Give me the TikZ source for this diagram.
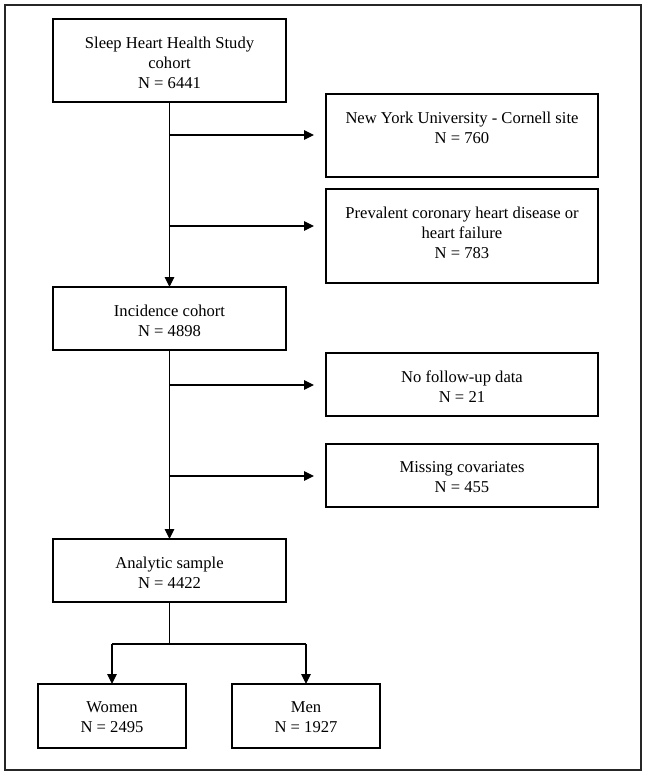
\documentclass[tikz,border=0pt]{standalone}
\usepackage{fontspec}
\setmainfont{Liberation Serif}
\usetikzlibrary{arrows.meta,calc}
\begin{document}
\begin{tikzpicture}[x=1pt,y=-1pt,
  box/.style={draw=black,line width=1.2pt,rectangle,inner sep=0pt,outer sep=0pt},
  txt/.style={align=center,inner sep=0pt,outer sep=0pt,anchor=north,font=\fontsize{16.6}{20}\selectfont},
  arr/.style={line width=1.2pt,-{Triangle[length=10pt,width=9.5pt]}},
  ln/.style={line width=1.2pt}]
\useasboundingbox (0,0) rectangle (647,777);
\draw[line width=1.3pt,draw=black!85] (5,5) rectangle (641,770);
% boxes
\node[box,minimum width=233pt,minimum height=83pt] (b1) at (169.5,60.5) {};
\node[box,minimum width=272pt,minimum height=83pt] (b2) at (462,135.5) {};
\node[box,minimum width=272pt,minimum height=94pt] (b3) at (462,236) {};
\node[box,minimum width=233pt,minimum height=63pt] (b4) at (169.5,318.5) {};
\node[box,minimum width=272pt,minimum height=63pt] (b5) at (462,384.5) {};
\node[box,minimum width=272pt,minimum height=63pt] (b6) at (462,475.5) {};
\node[box,minimum width=233pt,minimum height=63pt] (b7) at (169.5,570.5) {};
\node[box,minimum width=148pt,minimum height=64pt] (b8) at (112,716) {};
\node[box,minimum width=148pt,minimum height=64pt] (b9) at (306,716) {};
% texts
\node[txt] (t1) at ($(b1.north)+(0,17.6)$) {Sleep Heart Health Study\\cohort\\N = 6441};
\node[txt] (t2) at ($(b2.north)+(0,17.6)$) {New York University - Cornell site\\N = 760};
\node[txt] (t3) at ($(b3.north)+(0,17.6)$) {Prevalent coronary heart disease or\\heart failure\\N = 783};
\node[txt] (t4) at ($(b4.north)+(0,17.6)$) {Incidence cohort\\N = 4898};
\node[txt] (t5) at ($(b5.north)+(0,17.6)$) {No follow-up data\\N = 21};
\node[txt] (t6) at ($(b6.north)+(0,17.6)$) {Missing covariates\\N = 455};
\node[txt] (t7) at ($(b7.north)+(0,17.6)$) {Analytic sample\\N = 4422};
\node[txt] (t8) at ($(b8.north)+(0,17.6)$) {Women\\N = 2495};
\node[txt] (t9) at ($(b9.north)+(0,17.6)$) {Men\\N = 1927};
% junctions
\coordinate (j1) at (b1.south |- 0,135);
\coordinate (j2) at (b1.south |- 0,226);
\coordinate (j3) at (b4.south |- 0,385);
\coordinate (j4) at (b4.south |- 0,476);
\coordinate (j5) at ($(b7.south)+(0,42)$);
\coordinate (j6) at (b8.north |- j5);
\coordinate (j7) at (b9.north |- j5);
% connectors
\draw[arr] (b1.south) -- (b4.north);
\draw[arr,shorten >=12pt] (j1) -- (j1 -| b2.west);
\draw[arr,shorten >=12pt] (j2) -- (j2 -| b3.west);
\draw[arr] (b4.south) -- (b7.north);
\draw[arr,shorten >=12pt] (j3) -- (j3 -| b5.west);
\draw[arr,shorten >=12pt] (j4) -- (j4 -| b6.west);
\draw[ln] (b7.south) -- (j5);
\draw[ln] (j6) -- (j7);
\draw[arr] (j6) -- (b8.north);
\draw[arr] (j7) -- (b9.north);
\end{tikzpicture}
\end{document}
